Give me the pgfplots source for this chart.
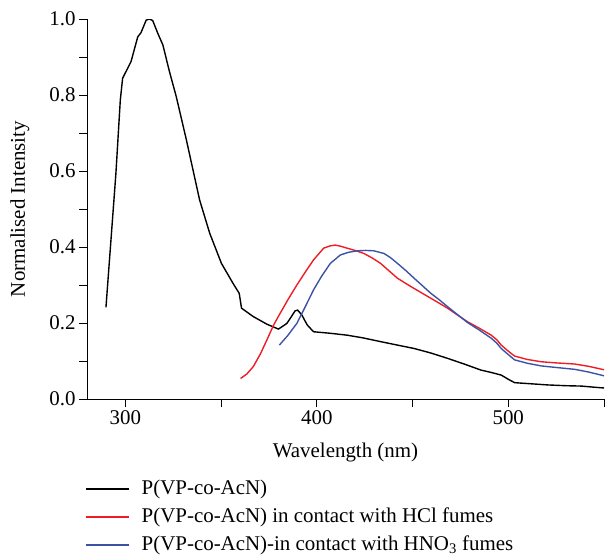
\documentclass[border=0pt]{standalone}
\usepackage{fontspec}
\setmainfont{Liberation Serif}
\usepackage{pgfplots}
\pgfplotsset{compat=1.18}
\definecolor{hclred}{HTML}{EE1D23}
\definecolor{hnoblue}{HTML}{3A53A4}
\newcommand{\chartfont}{\fontsize{21}{25}\selectfont}

\begin{document}
\begin{tikzpicture}
\useasboundingbox (0,0) rectangle (608bp,-560bp);
\begin{axis}[
  at={(87bp,-399bp)}, anchor=south west,
  scale only axis, width=517bp, height=380bp,
  xmin=280, xmax=550, ymin=0, ymax=1,
  axis x line*=bottom, axis y line*=left,
  axis line style={-, line width=0.8pt},
  xtick={300,400,500}, minor xtick={350,450,550},
  ytick={0,0.2,0.4,0.6,0.8,1.0}, minor ytick={0.1,0.3,0.5,0.7,0.9},
  tick align=outside, major tick length=8bp, minor tick length=8bp,
  tick style={line width=0.8pt, black},
  yticklabel style={/pgf/number format/.cd, fixed, fixed zerofill, precision=1},
  /pgf/number format/assume math mode=true,
  tick label style={font=\chartfont},
  label style={font=\chartfont},
  xlabel={Wavelength (nm)},
  ylabel={Normalised Intensity},
  xlabel style={at={(axis description cs:0.5,-0.153)}, anchor=base},
  ylabel style={at={(axis description cs:-0.12,0.5)}, anchor=base},
  legend style={draw=none, fill=none, font=\chartfont,
    at={(axis description cs:-0.004,-0.212)}, anchor=north west,
    inner sep=0pt, row sep=9bp, column sep=12bp,
    nodes={inner sep=0pt, text height=15bp, text depth=4bp}},
  legend cell align=left,
  legend image code/.code={\draw[#1, line width=1.6pt] (0bp,0bp) -- (43bp,0bp);},
  every axis plot/.append style={line width=1.4pt},
]
\addplot[black] coordinates {
(289.9,0.241) (295.1,0.594) (297.4,0.787) (298.6,0.844) (300.3,0.861)
(303.0,0.888) (306.5,0.953) (308.2,0.964) (310.9,0.997) (312.6,1.000)
(314.3,0.996) (317.0,0.962) (319.6,0.932) (323.1,0.861) (326.6,0.796)
(331.9,0.682) (338.8,0.524) (344.1,0.436) (350.2,0.357) (356.3,0.304)
(359.5,0.278) (360.7,0.239) (366.8,0.217) (373.9,0.197) (380.0,0.184)
(384.4,0.199) (388.7,0.232) (390.0,0.234) (392.2,0.221) (395.0,0.195)
(398.3,0.177) (407.0,0.173) (415.8,0.168) (424.0,0.161) (433.3,0.151)
(442.0,0.142) (450.8,0.133) (459.6,0.121) (468.3,0.107) (477.0,0.092)
(485.8,0.076) (491.0,0.070) (496.3,0.063) (500.0,0.052) (503.3,0.043)
(512.0,0.040) (520.8,0.037) (530.0,0.035) (538.3,0.034) (545.0,0.031)
(550.0,0.029)
};
\addlegendentry{P(VP-co-AcN)}
\addplot[hclred] coordinates {
(360.2,0.054) (363.5,0.066) (366.8,0.085) (370.5,0.118) (373.9,0.155)
(377.5,0.195) (380.8,0.225) (385.0,0.262) (389.6,0.300) (394.0,0.334)
(398.3,0.366) (403.6,0.397) (407.0,0.403) (409.7,0.405) (412.5,0.402)
(415.8,0.397) (420.0,0.391) (424.6,0.383) (429.0,0.371) (433.3,0.357)
(437.8,0.337) (442.1,0.318) (446.5,0.304) (450.8,0.291) (455.2,0.278)
(459.6,0.265) (464.0,0.252) (468.3,0.239) (473.5,0.221) (478.8,0.203)
(485.0,0.186) (491.1,0.168) (494.0,0.156) (496.3,0.142) (500.0,0.126)
(503.3,0.113) (510.0,0.104) (517.3,0.098) (525.0,0.095) (534.8,0.092)
(542.0,0.086) (550.0,0.077)
};
\addlegendentry{P(VP-co-AcN) in contact with HCl fumes}
\addplot[hnoblue] coordinates {
(380.5,0.142) (385.0,0.168) (389.6,0.199) (394.0,0.243) (398.3,0.287)
(402.5,0.323) (407.1,0.357) (412.3,0.379) (416.5,0.386) (421.1,0.390)
(425.5,0.391) (429.8,0.390) (435.1,0.383) (438.5,0.372) (442.1,0.357)
(446.5,0.338) (450.8,0.318) (455.2,0.298) (459.6,0.278) (464.0,0.261)
(468.3,0.243) (473.5,0.222) (478.8,0.201) (485.0,0.181) (491.1,0.160)
(494.0,0.147) (496.3,0.133) (500.0,0.117) (503.3,0.103) (510.0,0.094)
(517.3,0.087) (525.0,0.083) (534.8,0.078) (542.0,0.071) (550.0,0.061)
};
\addlegendentry{P(VP-co-AcN)-in contact with HNO\textsubscript{3} fumes}
\end{axis}
\end{tikzpicture}
\end{document}
